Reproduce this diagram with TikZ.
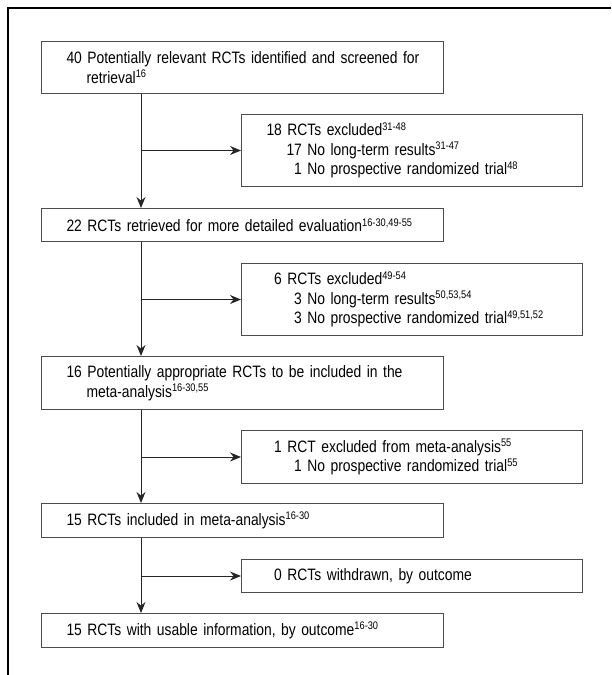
\documentclass[tikz,border=0pt]{standalone}
\usepackage{fontspec}
\setmainfont[FakeStretch=0.84]{Liberation Sans}
\usetikzlibrary{arrows.meta}
\newcommand{\subind}{\hspace*{20pt}}
\newcommand{\refs}[1]{\raisebox{5.5pt}{\fontsize{11}{11}\selectfont #1}}

\begin{document}
\begin{tikzpicture}[x=1pt, y=-1pt,
box/.style={draw=black!70, line width=1pt, anchor=north west, align=left, inner xsep=25pt, inner ysep=0pt, text=black, font=\fontsize{16.5}{19.5}\selectfont},
leftbox/.style={box, text width=352pt},
rightbox/.style={box, text width=291pt},
arrow/.style={draw=black!85, line width=1pt, -{Stealth[length=11pt, width=9pt]}}]
\useasboundingbox (0,0) rectangle (611,675);
\draw[line width=1.4pt] (611,8) -- (8,8) -- (8,675);

\node[leftbox, minimum height=52pt] (b1) at (41,41) {\mbox{40 Potentially relevant RCTs identified and screened for}\\ \subind retrieval\refs{16}};
\node[rightbox, minimum height=72pt] (b2) at (241,114) {\mbox{18 RCTs excluded\refs{31-48}}\\ \subind\mbox{17 No long-term results\refs{31-47}}\\ \subind\mbox{\phantom{0}1 No prospective randomized trial\refs{48}}};
\node[leftbox, minimum height=33pt] (b3) at (41,208) {\mbox{22 RCTs retrieved for more detailed evaluation\refs{16-30,49-55}}};
\node[rightbox, minimum height=72pt] (b4) at (241,263) {\mbox{\phantom{0}6 RCTs excluded\refs{49-54}}\\ \subind\mbox{\phantom{0}3 No long-term results\refs{50,53,54}}\\ \subind\mbox{\phantom{0}3 No prospective randomized trial\refs{49,51,52}}};
\node[leftbox, minimum height=53pt] (b5) at (41,356) {\mbox{16 Potentially appropriate RCTs to be included in the}\\ \subind\mbox{meta-analysis\refs{16-30,55}}};
\node[rightbox, minimum height=53pt] (b6) at (241,430) {\mbox{\phantom{0}1 RCT excluded from meta-analysis\refs{55}}\\ \subind\mbox{\phantom{0}1 No prospective randomized trial\refs{55}}};
\node[leftbox, minimum height=34pt] (b7) at (41,503) {\mbox{15 RCTs included in meta-analysis\refs{16-30}}};
\node[rightbox, minimum height=33pt] (b8) at (241,559) {\mbox{\phantom{0}0 RCTs withdrawn, by outcome}};
\node[leftbox, minimum height=34pt] (b9) at (41,613) {\mbox{15 RCTs with usable information, by outcome\refs{16-30}}};

\coordinate (s1) at ([xshift=100pt]b1.south west);
\coordinate (s3) at ([xshift=100pt]b3.south west);
\coordinate (s5) at ([xshift=100pt]b5.south west);
\coordinate (s7) at ([xshift=100pt]b7.south west);

\draw[arrow] (s1) -- (s1 |- b3.north);
\draw[arrow] (s1 |- b2.west) -- (b2.west);
\draw[arrow] (s3) -- (s3 |- b5.north);
\draw[arrow] (s3 |- b4.west) -- (b4.west);
\draw[arrow] (s5) -- (s5 |- b7.north);
\draw[arrow] (s5 |- b6.west) -- (b6.west);
\draw[arrow] (s7) -- (s7 |- b9.north);
\draw[arrow] (s7 |- b8.west) -- (b8.west);
\end{tikzpicture}
\end{document}
